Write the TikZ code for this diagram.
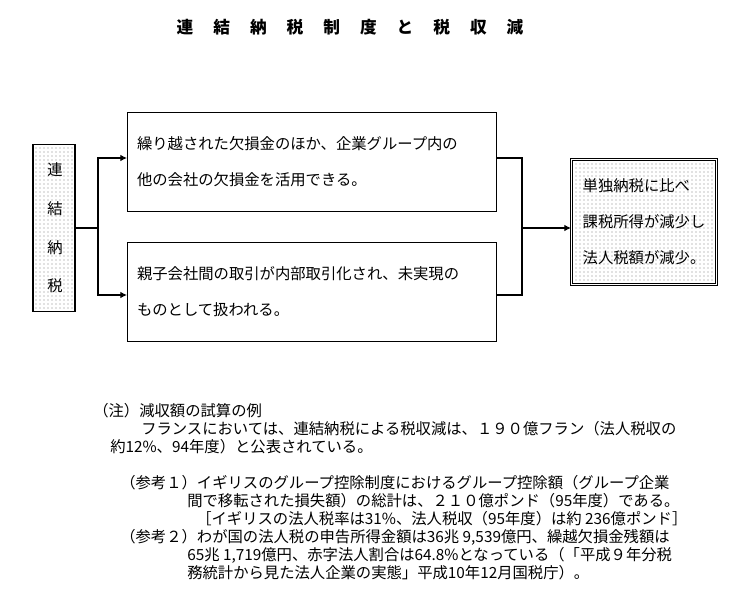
\documentclass[tikz,border=0pt]{standalone}
\usepackage{fontspec}
\setmainfont{Noto Sans CJK JP}
\usetikzlibrary{positioning, arrows.meta, patterns}

\newcommand{\tg}{\hspace{15pt}}

\begin{document}
\begin{tikzpicture}
[x=0.75pt, y=-0.75pt,
                    block/.style   ={rectangle, draw, thick, minimum width=369*0.75pt, minimum height=99*0.75pt, text width=350*0.75pt, align=left, font=\fontsize{11.5}{27}\selectfont},
                    dotbox/.style  ={rectangle, draw, thick, pattern=dots, pattern color=gray},
                    line/.style    ={draw, thick, -{Latex[length=5pt,width=5pt]}},
                    note/.style    ={anchor=west, inner sep=0pt, font=\fontsize{11.5}{13}\selectfont}]
\useasboundingbox (0,0) rectangle (748,588);

\node[font=\fontsize{12.5}{14}\selectfont\bfseries] (title) at (350,27) {連\tg 結\tg 納\tg 税\tg 制\tg 度\tg と\tg 税\tg 収\tg 減};

\node[dotbox, minimum width=42*0.75pt, minimum height=167*0.75pt] (consol) at (54,228) {};
\node[font=\fontsize{11.5}{29}\selectfont, text width=1em, align=center, inner sep=1pt] at (consol) {連\\結\\納\\税};

\node[block] (carry) at (312,162) {繰り越された欠損金のほか、企業グループ内の\\他の会社の欠損金を活用できる。};
\node[block] (intra) at (312,292) {親子会社間の取引が内部取引化され、未実現の\\ものとして扱われる。};

\node[dotbox, double, minimum width=145*0.75pt, minimum height=125*0.75pt] (result) at (644,222) {};
\node[font=\fontsize{11.5}{27}\selectfont, align=left, inner sep=1pt] at (result) {単独納税に比べ\\課税所得が減少し\\法人税額が減少。};

\coordinate (split) at (98,228);
\coordinate (join) at (522,228);
\draw[thick] (consol) -- (split);
\path[line] (split) |- (carry.west |- 0,158);
\path[line] (split) |- (intra.west |- 0,295);
\draw[thick] (carry.east |- 0,158) -| (join);
\draw[thick] (intra.east |- 0,295) -| (join);
\path[line] (join) -- (join -| result.west);

\node[note] (n0) at (93,411) {（注）減収額の試算の例};
\node[note] (n1) at (141,429) {フランスにおいては、連結納税による税収減は、１９０億フラン（法人税収の};
\node[note] (n2) at (110,447) {約12\%、94年度）と公表されている。};
\node[note] (r1) at (120,483) {（参考１）イギリスのグループ控除制度におけるグループ控除額（グループ企業};
\node[note] (r1b) at (187,501) {間で移転された損失額）の総計は、２１０億ポンド（95年度）である。};
\node[note] (r1c) at (196,519) {［イギリスの法人税率は31\%、法人税収（95年度）は約 236億ポンド］};
\node[note] (r2) at (120,537) {（参考２）わが国の法人税の申告所得金額は36兆 9,539億円、繰越欠損金残額は};
\node[note] (r2b) at (187,555) {65兆 1,719億円、赤字法人割合は64.8\%となっている（「平成９年分税};
\node[note] (r2c) at (187,573) {務統計から見た法人企業の実態」平成10年12月国税庁）。};
\end{tikzpicture}
\end{document}
